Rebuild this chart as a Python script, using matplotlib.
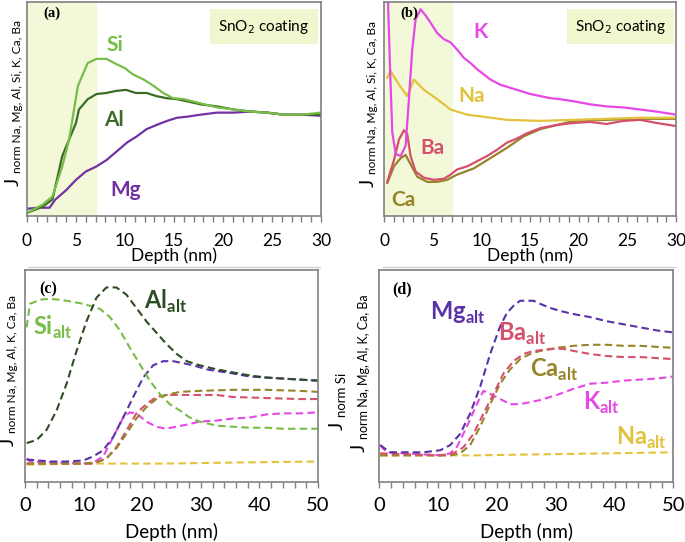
import matplotlib
matplotlib.use('Agg')
import matplotlib.pyplot as plt
from matplotlib.ticker import MultipleLocator
from matplotlib.lines import Line2D

plt.rcParams['font.family'] = ['Lato', 'DejaVu Sans']

# ---------------- data (arbitrary normalised units) ----------------
# (a) SnO2 coating: Si, Al, Mg
a_si_d = [0, 1.6, 2.6, 3.6, 4.3, 5.2, 6.2, 7.1, 8.1, 9.1, 10, 10.8, 11.9, 12.9, 13.9, 14.9, 16, 17.7, 19.4, 21.1, 22.8, 24.5, 26.2, 28, 30]
a_si_j = [0.03, 0.11, 0.19, 0.48, 0.74, 1.26, 1.48, 1.52, 1.52, 1.47, 1.43, 1.37, 1.32, 1.26, 1.19, 1.14, 1.13, 1.09, 1.05, 1.03, 1.01, 1.0, 0.98, 0.98, 1.0]
a_al_d = [0, 1.6, 2.6, 3.6, 4.3, 5.0, 5.3, 6.2, 7.1, 8.1, 9.1, 10.1, 11.1, 12.2, 13.2, 14.2, 15.3, 16.3, 17.7, 19.4, 21.1, 22.8, 24.5, 26.2, 28, 30]
a_al_j = [0.03, 0.09, 0.16, 0.58, 0.74, 0.9, 1.03, 1.13, 1.18, 1.19, 1.21, 1.22, 1.19, 1.19, 1.16, 1.14, 1.13, 1.11, 1.08, 1.06, 1.03, 1.01, 1.0, 0.98, 0.98, 0.98]
a_mg_d = [0, 1.2, 2.3, 2.9, 4.0, 5.0, 6.0, 7.1, 8.1, 9.1, 10.2, 11.2, 12.2, 13.2, 14.3, 15.3, 16.3, 17.7, 19.4, 21.1, 22.8, 24.5, 26.2, 28, 30]
a_mg_j = [0.07, 0.08, 0.08, 0.16, 0.25, 0.35, 0.43, 0.48, 0.54, 0.62, 0.71, 0.77, 0.84, 0.88, 0.92, 0.95, 0.96, 0.98, 1.0, 1.0, 1.01, 1.0, 0.98, 0.98, 0.97]

# (b) SnO2 coating: K, Na, Ba, Ca
b_k_d = [0.34, 0.61, 0.85, 1.2, 1.71, 2.22, 2.56, 2.9, 3.24, 3.76, 4.27, 4.78, 5.46, 6.15, 6.83, 7.51, 8.2, 8.88, 9.56, 10.25, 10.93, 11.95, 12.98, 14, 15.03, 16.05, 17.08, 18.1, 19.47, 21.17, 22.88, 24.59, 26.3, 28, 30]
b_k_j = [2.3, 1.45, 0.81, 0.6, 0.58, 0.68, 1.13, 1.61, 1.9, 2.0, 1.94, 1.87, 1.77, 1.71, 1.68, 1.61, 1.53, 1.48, 1.42, 1.37, 1.32, 1.27, 1.24, 1.21, 1.18, 1.16, 1.14, 1.13, 1.11, 1.08, 1.06, 1.05, 1.03, 1.01, 0.98]
b_na_d = [0.34, 0.68, 1.54, 2.39, 3.07, 4.1, 5.46, 6.83, 8.54, 10.25, 12.64, 16.05, 19.47, 22.88, 26.3, 30]
b_na_j = [1.34, 1.4, 1.27, 1.16, 1.32, 1.22, 1.13, 1.03, 0.98, 0.96, 0.93, 0.92, 0.93, 0.94, 0.95, 0.95]
b_ba_d = [0.34, 1.02, 1.54, 2.05, 2.39, 2.73, 3.24, 4.1, 5.12, 6.15, 6.83, 7.51, 8.54, 9.56, 10.59, 11.6, 12.64, 13.66, 14.69, 16.05, 17.76, 19.47, 21.17, 22.88, 24.59, 26.3, 28, 30]
b_ba_j = [0.33, 0.54, 0.74, 0.83, 0.79, 0.58, 0.43, 0.37, 0.35, 0.36, 0.4, 0.45, 0.48, 0.53, 0.58, 0.64, 0.71, 0.75, 0.8, 0.85, 0.88, 0.9, 0.91, 0.89, 0.92, 0.93, 0.9, 0.87]
b_ca_d = [0.34, 1.02, 1.71, 2.22, 2.73, 3.42, 4.44, 5.46, 6.49, 7.51, 9.22, 10.93, 12.64, 14.34, 16.05, 17.76, 19.47, 22.88, 26.3, 30]
b_ca_j = [0.32, 0.48, 0.56, 0.59, 0.5, 0.38, 0.33, 0.33, 0.35, 0.4, 0.46, 0.56, 0.66, 0.77, 0.84, 0.88, 0.92, 0.93, 0.94, 0.94]

# (c) alternative glass: Si, Al, Mg, Ca, Ba, K, Na
c_si_d = [0.28, 0.85, 2.56, 4.26, 7.1, 9.94, 12.8, 14.5, 16.2, 17.9, 19.6, 21.3, 23, 24.7, 26.4, 28.1, 29.8, 32.7, 35.5, 38.4, 41.2, 44, 46.9, 50]
c_si_j = [1.51, 1.74, 1.78, 1.79, 1.77, 1.74, 1.69, 1.61, 1.48, 1.31, 1.15, 0.99, 0.86, 0.76, 0.7, 0.63, 0.59, 0.55, 0.54, 0.53, 0.53, 0.52, 0.52, 0.52]
c_al_d = [0.28, 1.99, 3.69, 5.4, 7.1, 8.8, 10.5, 12.2, 13.9, 15.6, 17.3, 19, 20.7, 22.4, 24.1, 25.9, 27.6, 29.8, 32.7, 35.5, 38.4, 41.2, 44, 46.9, 50]
c_al_j = [0.38, 0.41, 0.51, 0.7, 0.96, 1.28, 1.57, 1.8, 1.9, 1.9, 1.83, 1.7, 1.57, 1.46, 1.35, 1.25, 1.18, 1.14, 1.1, 1.07, 1.04, 1.02, 1.01, 1.0, 0.99]
c_mg_d = [0.28, 4.26, 7.1, 9.94, 11.65, 13.35, 15.06, 16.76, 18.47, 20.17, 21.88, 23.58, 25.28, 26.99, 28.69, 30.97, 35.5, 38.35, 41.19, 44.03, 46.9, 50]
c_mg_j = [0.22, 0.2, 0.2, 0.21, 0.25, 0.31, 0.44, 0.63, 0.83, 1.02, 1.14, 1.18, 1.18, 1.16, 1.14, 1.1, 1.06, 1.03, 1.02, 1.01, 1.0, 0.99]
c_ca_d = [0.28, 9.94, 12.2, 13.9, 15.6, 17.3, 19, 20.7, 22.4, 24.1, 26.4, 29.8, 35.5, 41.2, 46.9, 50]
c_ca_j = [0.18, 0.18, 0.19, 0.23, 0.33, 0.47, 0.62, 0.73, 0.81, 0.85, 0.88, 0.89, 0.9, 0.9, 0.89, 0.88]
c_ba_d = [0.28, 11.65, 13.9, 15.6, 17.3, 19, 20.7, 22.4, 24.1, 26.4, 29.8, 32.7, 35.5, 41.2, 46.9, 50]
c_ba_j = [0.18, 0.18, 0.23, 0.34, 0.5, 0.67, 0.76, 0.83, 0.85, 0.85, 0.85, 0.85, 0.83, 0.82, 0.81, 0.81]
c_k_d = [0.28, 0.85, 9.94, 11.65, 13.35, 15.06, 16.76, 17.9, 19, 20.7, 22.4, 24.1, 25.8, 27.6, 29.8, 32.7, 35.5, 38.4, 41.2, 44, 46.9, 50]
c_k_j = [0.23, 0.2, 0.18, 0.19, 0.25, 0.44, 0.63, 0.68, 0.67, 0.59, 0.54, 0.52, 0.54, 0.56, 0.59, 0.6, 0.62, 0.63, 0.66, 0.67, 0.67, 0.68]
c_na_d = [0.28, 12.8, 24.1, 35.5, 50]
c_na_j = [0.17, 0.18, 0.18, 0.19, 0.2]

# (d) alternative glass: Mg, Ba, Ca, K, Na
d_mg_d = [0.11, 1.81, 7.48, 10.32, 12.02, 13.72, 15.42, 17.12, 18.82, 20.52, 21.66, 22.79, 23.92, 25.06, 26.19, 27.32, 29.02, 30.73, 33, 35.83, 38.66, 41.5, 44.33, 47.17, 50]
d_mg_j = [0.36, 0.29, 0.29, 0.31, 0.36, 0.47, 0.67, 0.93, 1.25, 1.52, 1.65, 1.72, 1.77, 1.77, 1.77, 1.74, 1.7, 1.67, 1.64, 1.61, 1.57, 1.54, 1.51, 1.48, 1.46]
d_ba_d = [0.11, 10.32, 12.59, 14.29, 15.99, 17.69, 19.39, 21.09, 22.79, 24.49, 26.19, 27.89, 29.59, 31.29, 33, 35.83, 38.66, 41.5, 44.33, 47.17, 50]
d_ba_j = [0.28, 0.26, 0.28, 0.34, 0.47, 0.67, 0.86, 1.06, 1.18, 1.25, 1.28, 1.29, 1.3, 1.3, 1.28, 1.25, 1.23, 1.22, 1.22, 1.21, 1.2]
d_ca_d = [0.11, 12.02, 13.72, 15.42, 17.12, 18.82, 20.52, 22.22, 23.92, 25.62, 27.32, 30.16, 33, 35.83, 38.66, 41.5, 44.33, 47.17, 50]
d_ca_j = [0.26, 0.26, 0.28, 0.36, 0.54, 0.76, 0.96, 1.1, 1.2, 1.25, 1.28, 1.31, 1.33, 1.34, 1.34, 1.33, 1.33, 1.32, 1.31]
d_k_d = [0.11, 1.25, 10.32, 12.02, 13.15, 14.85, 16.55, 17.69, 18.82, 20.52, 22.22, 23.92, 25.62, 27.32, 30.16, 33, 35.83, 38.66, 41.5, 44.33, 47.17, 50]
d_k_j = [0.36, 0.29, 0.26, 0.28, 0.34, 0.54, 0.76, 0.89, 0.86, 0.81, 0.76, 0.76, 0.78, 0.8, 0.85, 0.91, 0.96, 0.97, 0.99, 1.0, 1.01, 1.03]
d_na_d = [0.11, 15.99, 27.32, 38.66, 50]
d_na_j = [0.26, 0.26, 0.27, 0.28, 0.29]

# colours
c_si = '#78bd48'
c_al = '#3c6b27'
c_mg = '#7232a4'
c_k = '#e648e6'
c_na = '#e3c23c'
c_ba = '#d5506c'
c_ca = '#978429'
c_al2 = '#2f4d25'
c_mg2 = '#5a32a6'
shade = '#f2f8d8'
frame = '#808080'

fig = plt.figure(figsize=(6.85, 5.42), dpi=100)

ax_a = fig.add_axes([0.0394, 0.6015, 0.4292, 0.3948])
ax_b = fig.add_axes([0.5606, 0.6015, 0.4263, 0.3948])
ax_c = fig.add_axes([0.0365, 0.1107, 0.4277, 0.3911])
ax_d = fig.add_axes([0.5540, 0.1107, 0.4292, 0.3911])


def style(ax, xmax, major, minor, tsize, lsize, pad, lpad):
    ax.set_xlim(0, xmax)
    ax.set_ylim(0, 2.07)
    ax.set_yticks([])
    ax.xaxis.set_major_locator(MultipleLocator(major))
    ax.xaxis.set_minor_locator(MultipleLocator(minor))
    ax.tick_params(axis='x', which='both', direction='out', length=4, width=1, color=frame,
                   labelsize=tsize, pad=pad)
    for s in ax.spines.values():
        s.set_color(frame)
        s.set_linewidth(1.2)
    ax.set_xlabel('Depth (nm)', fontsize=lsize, labelpad=lpad)


# ---------------- (a) ----------------
ax_a.axvspan(0, 7, color=shade, zorder=0)
ax_a.plot(a_mg_d, a_mg_j, color=c_mg, lw=1.6)
ax_a.plot(a_al_d, a_al_j, color=c_al, lw=1.6)
ax_a.plot(a_si_d, a_si_j, color=c_si, lw=1.6)
style(ax_a, 30, 5, 1, 12.5, 12.5, 8, -1)
ax_a.text(0.055, 0.93, '(a)', transform=ax_a.transAxes, family='Liberation Serif',
          fontweight='bold', fontsize=10.5)
ax_a.text(0.805, 0.885, 'SnO$_2$ coating', transform=ax_a.transAxes, fontsize=11,
          ha='center', va='center', bbox=dict(boxstyle='square,pad=0.55', fc='#eff7cf', ec='none'))
ax_a.text(0.3, 0.80, 'Si', transform=ax_a.transAxes, color=c_si, fontsize=15, fontweight='bold', ha='center', va='center')
ax_a.text(0.295, 0.45, 'Al', transform=ax_a.transAxes, color=c_al, fontsize=15, fontweight='bold', ha='center', va='center')
ax_a.text(0.335, 0.12, 'Mg', transform=ax_a.transAxes, color=c_mg, fontsize=15, fontweight='bold', ha='center', va='center')

# ---------------- (b) ----------------
ax_b.axvspan(0, 7, color=shade, zorder=0)
ax_b.plot(b_ca_d, b_ca_j, color=c_ca, lw=1.6)
ax_b.plot(b_ba_d, b_ba_j, color=c_ba, lw=1.6)
ax_b.plot(b_na_d, b_na_j, color=c_na, lw=1.6)
ax_b.plot(b_k_d, b_k_j, color=c_k, lw=1.6)
style(ax_b, 30, 5, 1, 12.5, 12.5, 8, -1)
ax_b.text(0.055, 0.93, '(b)', transform=ax_b.transAxes, family='Liberation Serif',
          fontweight='bold', fontsize=10.5)
ax_b.text(0.81, 0.885, 'SnO$_2$ coating', transform=ax_b.transAxes, fontsize=11,
          ha='center', va='center', bbox=dict(boxstyle='square,pad=0.55', fc='#eff7cf', ec='none'))
ax_b.text(0.33, 0.86, 'K', transform=ax_b.transAxes, color=c_k, fontsize=15, fontweight='bold', ha='center', va='center')
ax_b.text(0.30, 0.56, 'Na', transform=ax_b.transAxes, color=c_na, fontsize=15, fontweight='bold', ha='center', va='center')
ax_b.text(0.165, 0.32, 'Ba', transform=ax_b.transAxes, color=c_ba, fontsize=15, fontweight='bold', ha='center', va='center')
ax_b.text(0.065, 0.075, 'Ca', transform=ax_b.transAxes, color=c_ca, fontsize=15, fontweight='bold', ha='center', va='center')

# ---------------- (c) ----------------
dash = (3.6, 2.0)
ax_c.plot(c_na_d, c_na_j, color=c_na, lw=1.5, dashes=dash)
ax_c.plot(c_k_d, c_k_j, color=c_k, lw=1.5, dashes=dash)
ax_c.plot(c_ba_d, c_ba_j, color=c_ba, lw=1.5, dashes=dash)
ax_c.plot(c_ca_d, c_ca_j, color=c_ca, lw=1.5, dashes=dash)
ax_c.plot(c_mg_d, c_mg_j, color=c_mg2, lw=1.5, dashes=dash)
ax_c.plot(c_si_d, c_si_j, color=c_si, lw=1.5, dashes=dash)
ax_c.plot(c_al_d, c_al_j, color=c_al2, lw=1.5, dashes=dash)
style(ax_c, 50, 10, 2, 14.5, 13.5, 7, 6)
ax_c.text(0.05, 0.89, '(c)', transform=ax_c.transAxes, family='Liberation Serif',
          fontweight='bold', fontsize=11.5)
ax_c.text(0.48, 0.85, 'Al$_{\\mathregular{alt}}$', transform=ax_c.transAxes, color=c_al2, fontsize=17, fontweight='bold', ha='center', va='center')
ax_c.text(0.095, 0.73, 'Si$_{\\mathregular{alt}}$', transform=ax_c.transAxes, color=c_si, fontsize=17, fontweight='bold', ha='center', va='center')

# ---------------- (d) ----------------
ax_d.plot(d_na_d, d_na_j, color=c_na, lw=1.5, dashes=dash)
ax_d.plot(d_k_d, d_k_j, color=c_k, lw=1.5, dashes=dash)
ax_d.plot(d_ca_d, d_ca_j, color=c_ca, lw=1.5, dashes=dash)
ax_d.plot(d_ba_d, d_ba_j, color=c_ba, lw=1.5, dashes=dash)
ax_d.plot(d_mg_d, d_mg_j, color=c_mg2, lw=1.5, dashes=dash)
style(ax_d, 50, 10, 2, 14.5, 13.5, 7, 6)
ax_d.text(0.045, 0.89, '(d)', transform=ax_d.transAxes, family='Liberation Serif',
          fontweight='bold', fontsize=11.5)
ax_d.text(0.265, 0.80, 'Mg$_{\\mathregular{alt}}$', transform=ax_d.transAxes, color=c_mg2, fontsize=17, fontweight='bold', ha='center', va='center')
ax_d.text(0.485, 0.70, 'Ba$_{\\mathregular{alt}}$', transform=ax_d.transAxes, color=c_ba, fontsize=17, fontweight='bold', ha='center', va='center')
ax_d.text(0.595, 0.53, 'Ca$_{\\mathregular{alt}}$', transform=ax_d.transAxes, color=c_ca, fontsize=17, fontweight='bold', ha='center', va='center')
ax_d.text(0.755, 0.375, 'K$_{\\mathregular{alt}}$', transform=ax_d.transAxes, color=c_k, fontsize=17, fontweight='bold', ha='center', va='center')
ax_d.text(0.89, 0.21, 'Na$_{\\mathregular{alt}}$', transform=ax_d.transAxes, color=c_na, fontsize=17, fontweight='bold', ha='center', va='center')


# ---------------- y labels (J + subscript) ----------------
def ylab(xpx, ypx, sub, jsize=14, ssize=8.6):
    W, H = 685.0, 542.0
    fig.text(xpx / W, 1 - ypx / H, 'J', rotation=90, fontsize=jsize, ha='center', va='bottom')
    fig.text((xpx + 5) / W, 1 - (ypx - 13) / H, sub, rotation=90, fontsize=ssize,
             ha='center', va='bottom')


ylab(13, 186, 'norm Na, Mg, Al, Si, K, Ca, Ba')
ylab(368, 187, 'norm Na, Mg, Al, Si, K, Ca, Ba')
ylab(8, 446, 'norm Na, Mg, Al, K, Ca, Ba')
ylab(359, 452, 'norm Na, Mg, Al, K, Ca, Ba', ssize=9)
ylab(337, 430, 'norm Si', ssize=9.5)

# faint separator lines under the top row
for x0, x1 in [(28, 320), (383, 675)]:
    fig.add_artist(Line2D([x0 / 685, x1 / 685], [1 - 267 / 542] * 2, color='#d0d0d0', lw=1))

fig.savefig('out.png', dpi=100)
